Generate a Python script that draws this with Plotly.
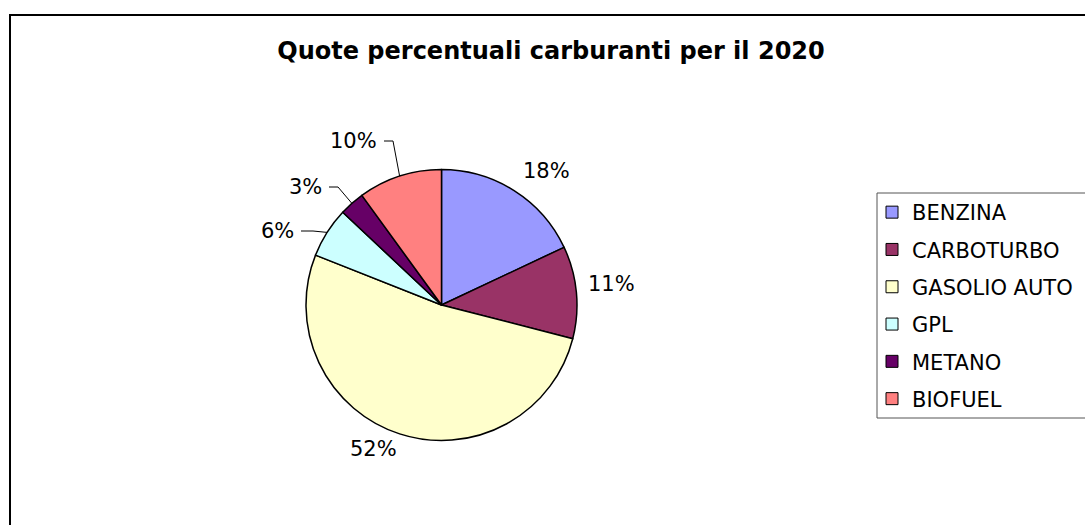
import math
import plotly.graph_objects as go

# ---- data ----
categories = ["BENZINA", "CARBOTURBO", "GASOLIO AUTO", "GPL", "METANO", "BIOFUEL"]
shares = [18, 11, 52, 6, 3, 10]
title_text = "Quote percentuali carburanti per il 2020"

# ---- style / layout ----
colors = ["#9999FF", "#993366", "#FFFFCC", "#CCFFFF", "#660066", "#FF8080"]
W, H = 1085, 525
CX, CY, R = 441.5, 305.0, 135.5  # pie centre / radius in page px
FONT = "DejaVu Sans, Liberation Sans, Arial, sans-serif"

# label placement (page px): text anchor x, y, anchor side, leader elbow x (None = no leader)
label_pos = [
    (546, 171, "center", None),
    (611, 284, "center", None),
    (373.5, 449, "center", None),
    (296, 231, "right", 313),
    (324, 187, "right", 338),
    (379, 141, "right", 393),
]


def px(x):
    return x / W


def py(y):
    return 1 - y / H


fig = go.Figure()

fig.add_trace(go.Pie(
    labels=categories,
    values=shares,
    sort=False,
    direction="clockwise",
    rotation=0,
    marker=dict(colors=colors, line=dict(color="#000000", width=1.5)),
    textinfo="none",
    hoverinfo="label+percent",
    showlegend=False,
    domain=dict(x=[px(CX - R), px(CX + R)], y=[py(CY + R), py(CY - R)]),
))

# legend entries (one per category)
for i, (cat, col) in enumerate(zip(categories, colors)):
    fig.add_trace(go.Scatter(
        x=[None], y=[None], mode="markers", name=cat,
        legendgroup=f"g{i}",
        marker=dict(symbol="square", size=12, color=col, line=dict(color="#000000", width=1)),
    ))

annotations = []
shapes = []
total = sum(shares)
cum = 0
for i, v in enumerate(shares):
    mid = (cum + v / 2) / total * 2 * math.pi
    cum += v
    pct = f"{round(v / total * 100)}%"
    lx, ly, anchor, elbow = label_pos[i]
    annotations.append(dict(
        x=px(lx), y=py(ly), xref="paper", yref="paper", text=pct, showarrow=False,
        xanchor=anchor, yanchor="middle", font=dict(family=FONT, size=21, color="#000000"),
    ))
    if elbow is not None:
        ex = CX + R * math.sin(mid)
        ey = CY - R * math.cos(mid)
        sx = lx + 5
        path = f"M {px(sx)} {py(ly)} L {px(elbow)} {py(ly)} L {px(ex)} {py(ey)}"
        shapes.append(dict(type="path", xref="paper", yref="paper", path=path,
                           line=dict(color="#000000", width=1)))

# chart-area border
shapes.append(dict(type="rect", xref="paper", yref="paper",
                   x0=px(10), y0=py(H + 10), x1=px(W + 10), y1=py(15),
                   line=dict(color="#000000", width=2), fillcolor="rgba(0,0,0,0)"))
# legend border
shapes.append(dict(type="rect", xref="paper", yref="paper",
                   x0=px(877), y0=py(418), x1=px(W + 10), y1=py(193),
                   line=dict(color="#555555", width=1), fillcolor="rgba(0,0,0,0)"))

fig.update_layout(
    width=W, height=H,
    margin=dict(l=0, r=0, t=0, b=0),
    paper_bgcolor="#FFFFFF", plot_bgcolor="#FFFFFF",
    title=dict(text=f"<b>{title_text}</b>", x=px(551), y=py(51), xanchor="center", yanchor="middle",
               font=dict(family=FONT, size=24, color="#000000")),
    xaxis=dict(visible=False), yaxis=dict(visible=False),
    legend=dict(x=px(872), y=py(192), xanchor="left", yanchor="top",
                font=dict(family=FONT, size=21, color="#000000"),
                bgcolor="rgba(0,0,0,0)", borderwidth=0,
                traceorder="grouped", tracegroupgap=7, itemclick=False),
    annotations=annotations,
    shapes=shapes,
)

fig.write_html("out.html")
